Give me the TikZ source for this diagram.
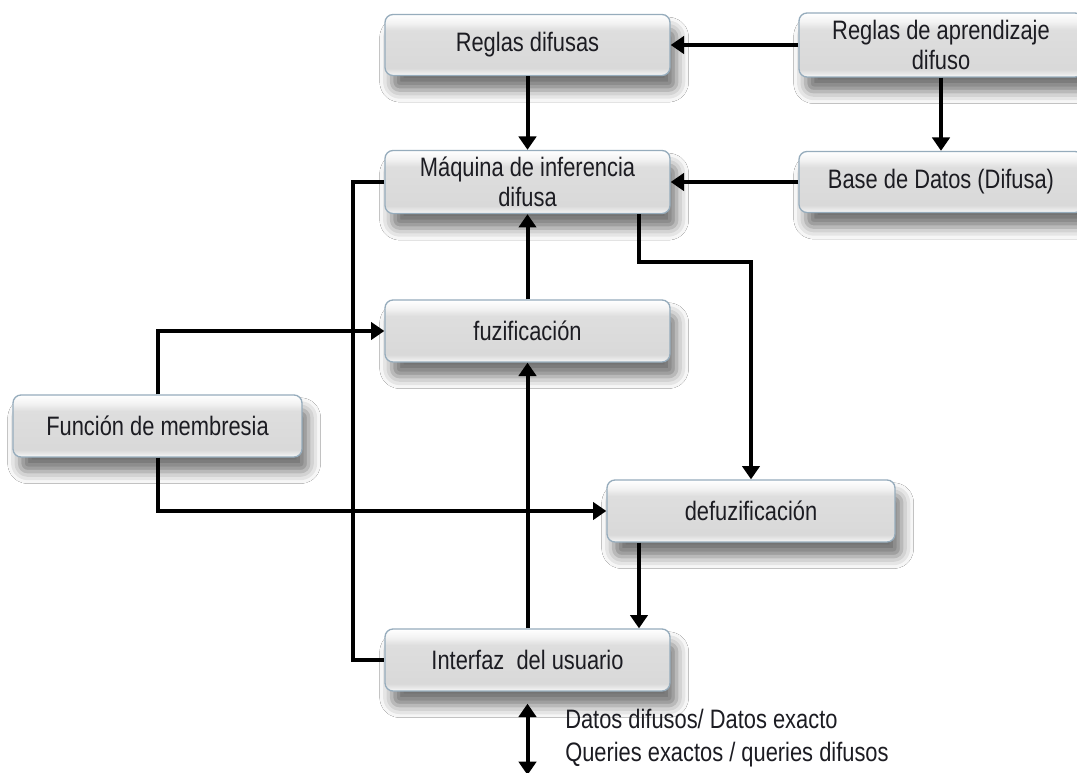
\documentclass[tikz,border=0pt]{standalone}
\usepackage{fontspec}
\setmainfont{Liberation Sans}[FakeStretch=0.82]
\usetikzlibrary{arrows.meta,shadows.blur,calc}
\newlength\pu
\setlength\pu{0.75pt}
\pgfdeclareverticalshading{glossy}{100bp}{color(0bp)=(white); color(25bp)=(white); color(27bp)=(white!85!gray); color(31bp)=(gray!30); color(62bp)=(gray!26); color(68bp)=(white!90!gray); color(75bp)=(white); color(100bp)=(white)}
\definecolor{boxedge}{RGB}{150,172,188}
\definecolor{txt}{RGB}{28,28,34}
\tikzset{
  box/.style={rectangle, rounded corners=6pt, draw=boxedge, line width=1pt,
    shading=glossy, minimum height=62\pu, inner sep=2pt, align=center,
    text=txt, font=\fontsize{20}{22.5}\selectfont,
    blur shadow={shadow xshift=5pt, shadow yshift=-11pt, shadow blur radius=9pt, shadow opacity=55}},
  conn/.style={line width=3pt, black},
  arr/.style={conn, -{Triangle[width=13pt,length=10pt]}},
  darr/.style={conn, {Triangle[width=13pt,length=10pt]}-{Triangle[width=13pt,length=10pt]}}
}
\begin{document}
\begin{tikzpicture}[x=0.75pt,y=-0.75pt]
\useasboundingbox (0,0) rectangle (1077,773);
\fill[white] (0,0) rectangle (1077,773);
% boxes
\node[box, minimum width=285\pu, minimum height=61\pu] (rd) at (527.5,45) {Reglas difusas};
\node[box, minimum width=284\pu, minimum height=64\pu] (ra) at (941,45) {Reglas de aprendizaje\\difuso};
\node[box, minimum width=285\pu, minimum height=63\pu] (mq) at (527.5,182) {Máquina de inferencia\\difusa};
\node[box, minimum width=284\pu, minimum height=61\pu] (bd) at (941,182) {Base de Datos (Difusa)};
\node[box, minimum width=285\pu] (fz) at (527.5,331) {fuzificación};
\node[box, minimum width=289\pu] (fm) at (157.5,426) {Función de membresia};
\node[box, minimum width=288\pu] (df) at (751,511) {defuzificación};
\node[box, minimum width=285\pu] (iu) at (527.5,660) {Interfaz\ \ del usuario};
\node[anchor=west, align=left, text=txt, font=\fontsize{20}{24.75}\selectfont, inner sep=0pt] (lbl) at (565,738) {Datos difusos/ Datos exacto\\Queries exactos / queries difusos};
% helper coordinates
\coordinate (c1) at (639,262);
\coordinate (lx) at (353,0);
\coordinate (bot) at (527.5,775);
% connectors
\draw[arr] (ra.west) -- (rd.east);
\draw[arr] (bd.west) -- (mq.east);
\draw[arr] (rd.south) -- (mq.north);
\draw[arr] (ra.south) -- (bd.north);
\draw[conn] (mq.west) -- (mq.west -| lx) |- (iu.west);
\draw[arr] (fz.north) -- (mq.south);
\draw[arr] (iu.north) -- (fz.south);
\draw[arr] (fm.north) |- (fz.west);
\draw[arr] (fm.south) |- (df.west);
\draw[arr] (mq.south -| c1) -- (c1) -| (df.north);
\draw[arr] (df.south -| c1) -- (iu.north -| c1);
\draw[darr] ([yshift=-9pt]iu.south) -- (bot);
\end{tikzpicture}
\end{document}
